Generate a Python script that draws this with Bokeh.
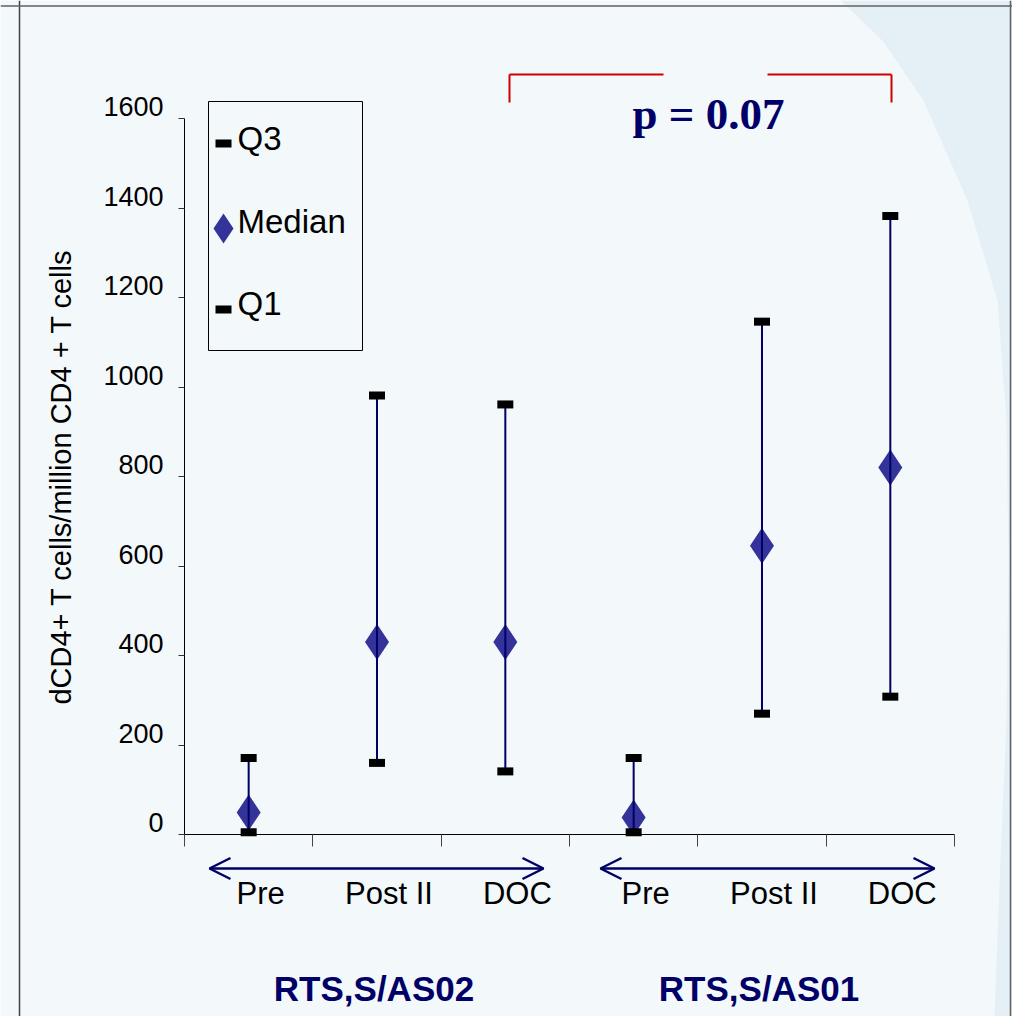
from bokeh.plotting import figure
from bokeh.models import (LinearAxis, FixedTicker, Range1d, Label, BoxAnnotation,
                          Arrow, OpenHead, ColumnDataSource, Span)
from bokeh.embed import file_html
from bokeh.resources import INLINE
from bokeh.core.properties import value

# ---------------- data ----------------
categories = ["Pre", "Post II", "DOC", "Pre", "Post II", "DOC"]
groups = ["RTS,S/AS02", "RTS,S/AS01"]
q1 = [5, 160, 141, 5, 270, 308]
median = [49, 430, 430, 38, 645, 820]
q3 = [171, 981, 961, 171, 1146, 1382]
y_ticks = [0, 200, 400, 600, 800, 1000, 1200, 1400, 1600]
y_tick_labels = ["0", "200", "400", "600", "800", "1000", "1200", "1400", "1600"]
y_label = "dCD4+ T cells/million CD4 + T cells"
p_value_text = "p = 0.07"
legend_labels = ["Q3", "Median", "Q1"]

# ---------------- styling / layout ----------------
BG = "#f3f8fb"
BG_DARK = "#e5eff6"
NAVY = "#000066"
DIAMOND = "#333399"
RED = "#d00000"
FONT = "Liberation Sans"

W, H = 1012, 1016
X0_PX, XSTEP = 184.0, 128.33     # page x of category boundary 0, px per category
Y0_PX, YSCALE = 834.0, 0.4475    # page y of value 0, px per unit
PAGE_OFF = 0.0
BASE_FIX = 0.36                  # baseline correction (fraction of font size)

x_start = (PAGE_OFF - X0_PX) / XSTEP
x_end = x_start + W / XSTEP
y_end = (Y0_PX - PAGE_OFF) / YSCALE
y_start = y_end - H / YSCALE


def px2x(px):
    return (px - X0_PX) / XSTEP


def px2y(py):
    return (Y0_PX - py) / YSCALE


def base_y(py, fs):
    return px2y(py - BASE_FIX * fs)


p = figure(width=W, height=H, x_range=Range1d(x_start, x_end), y_range=Range1d(y_start, y_end),
           output_backend="svg", toolbar_location=None, x_axis_location=None, y_axis_location=None,
           min_border=0, background_fill_color=BG, border_fill_color=BG, outline_line_color=None)
for g in p.grid:
    g.visible = False

# background decoration (darker area at right)
curve_px = [(840, 0), (882, 40), (923, 100), (967, 200), (997, 300), (1006, 420), (1008, 560),
            (1006, 720), (1000, 860), (994, 1016), (1016, 1016), (1016, 0)]
p.patch([px2x(a) for a, b in curve_px], [px2y(b) for a, b in curve_px],
        fill_color=BG_DARK, line_color=None)
p.add_layout(Span(location=px2x(19), dimension="height", line_color="#404040", line_width=1.5))
p.add_layout(Span(location=px2x(1010), dimension="height", line_color="#606060", line_width=1.5))
p.add_layout(Span(location=px2y(5.5), dimension="width", line_color="#606060", line_width=1.5))

# ---------------- data marks ----------------
xs = [i + 0.5 for i in range(len(categories))]
src = ColumnDataSource(dict(x=xs, q1=q1, med=median, q3=q3, cat=categories))

p.scatter("x", "med", source=src, marker="diamond", size=36, fill_color=DIAMOND, line_color=None)
p.segment(x0="x", y0="q1", x1="x", y1="q3", source=src, line_color=NAVY, line_width=2)
p.rect("x", "q3", width=16, height=8, width_units="screen", height_units="screen",
       source=src, fill_color="black", line_color=None)
p.rect("x", "q1", width=16, height=8, width_units="screen", height_units="screen",
       source=src, fill_color="black", line_color=None)

# ---------------- axes ----------------
yaxis = LinearAxis(fixed_location=0, bounds=(0, 1600), ticker=FixedTicker(ticks=y_ticks),
                   major_label_overrides={t: "" for t in y_ticks},
                   axis_label=y_label, axis_label_text_font=FONT, axis_label_text_font_size="29px",
                   axis_label_text_font_style="normal", axis_label_text_color="black",
                   axis_label_standoff=102, major_label_standoff=15,
                   major_tick_in=0, major_tick_out=6, minor_tick_out=0, minor_tick_in=0,
                   axis_line_color="black", major_tick_line_color="#333333")
p.add_layout(yaxis, "left")

# y tick labels (sitting just above their ticks, as in the original)
tick_src = ColumnDataSource(dict(y=y_ticks, lab=y_tick_labels, x=[0] * len(y_ticks)))
p.text(x="x", y="y", text="lab", source=tick_src, x_offset=-21, y_offset=-(2 + BASE_FIX * 27),
       text_font=value(FONT), text_font_size="27px", text_color="black",
       text_align="right", text_baseline="alphabetic")

xaxis = LinearAxis(fixed_location=0, bounds=(0, len(categories)),
                   ticker=FixedTicker(ticks=list(range(len(categories) + 1))),
                   major_label_overrides={i: "" for i in range(len(categories) + 1)},
                   major_tick_in=0, major_tick_out=12, minor_tick_out=0, minor_tick_in=0,
                   axis_line_color="black", major_tick_line_color="#444444")
p.add_layout(xaxis, "below")

# category labels
p.text(x="x", y=base_y(904, 31), text="cat", source=src, x_offset=12,
       text_font=value(FONT), text_font_size="31px", text_color="black",
       text_align="center", text_baseline="alphabetic")

# group arrows and labels
for (a, b) in [(209, 543), (600, 934)]:
    p.add_layout(Arrow(start=OpenHead(size=21, line_color=NAVY, line_width=2.5),
                       end=OpenHead(size=21, line_color=NAVY, line_width=2.5),
                       x_start=px2x(a), y_start=px2y(868), x_end=px2x(b), y_end=px2y(868),
                       line_color=NAVY, line_width=2.5))
for gi, gname in enumerate(groups):
    p.add_layout(Label(x=3 * gi + 1.5, y=base_y(1001, 35), text=gname, x_offset=-3,
                       text_font=FONT, text_font_style="bold", text_font_size="35px",
                       text_color=NAVY, text_align="center", text_baseline="alphabetic"))

# significance bracket
bx = [(509, 74, 509, 102), (509, 74, 663, 74), (767, 74, 891, 74), (891, 74, 891, 102)]
p.segment(x0=[px2x(s[0]) for s in bx], y0=[px2y(s[1]) for s in bx],
          x1=[px2x(s[2]) for s in bx], y1=[px2y(s[3]) for s in bx],
          line_color=RED, line_width=2)
p.add_layout(Label(x=px2x(708), y=base_y(130, 45), text=p_value_text, text_font="Liberation Serif",
                   text_font_style="bold", text_font_size="45px", text_color=NAVY,
                   text_align="center", text_baseline="alphabetic"))

# ---------------- legend (drawn box) ----------------
p.add_layout(BoxAnnotation(left=px2x(208), right=px2x(362), top=px2y(101), bottom=px2y(350),
                           fill_alpha=0, line_color="black", line_width=1, line_alpha=1))
leg_base = [150, 233, 315]
for lab, yb in zip(legend_labels, leg_base):
    p.add_layout(Label(x=px2x(237), y=base_y(yb, 33), text=lab, text_font=FONT,
                       text_font_size="33px", text_color="black", text_align="left",
                       text_baseline="alphabetic"))
p.rect([px2x(223), px2x(223)], [px2y(143), px2y(309)], width=16, height=8,
       width_units="screen", height_units="screen", fill_color="black", line_color=None)
p.scatter([px2x(223)], [px2y(228)], marker="diamond", size=30, fill_color=DIAMOND, line_color=None)

html = file_html(p, INLINE)
html = html.replace("<body>", '<body style="background-color:%s;">' % BG, 1)
open("out.html", "w").write(html)
